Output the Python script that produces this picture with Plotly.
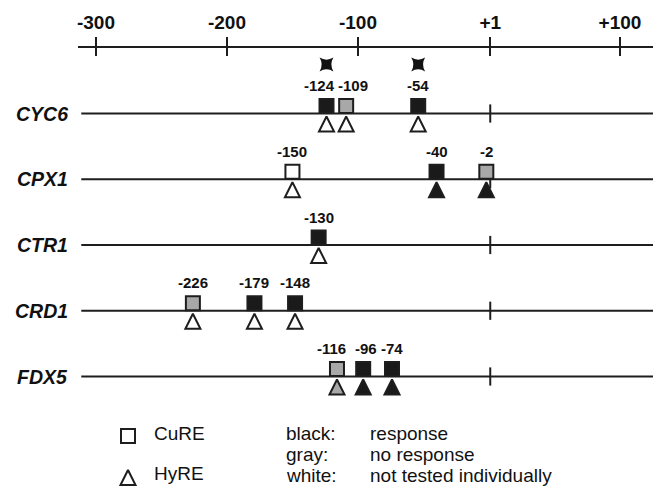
import plotly.graph_objects as go

# ---------------- data ----------------
genes = ["CYC6", "CPX1", "CTR1", "CRD1", "FDX5"]
cure_pos = [[-124, -109, -54], [-150, -40, -2], [-130], [-226, -179, -148], [-116, -96, -74]]
cure_state = [["black", "gray", "black"], ["white", "black", "gray"], ["black"],
              ["gray", "black", "black"], ["gray", "black", "black"]]
hyre_state = [["white", "white", "white"], ["white", "black", "black"], ["white"],
              ["white", "white", "white"], ["gray", "black", "black"]]
starred_gene = "CYC6"
starred_pos = [-124, -54]
tick_vals = [-300, -200, -100, 1, 100]
tick_text = ["-300", "-200", "-100", "+1", "+100"]
legend_shapes = ["CuRE", "HyRE"]
legend_colors = ["black:", "gray:", "white:"]
legend_meaning = ["response", "no response", "not tested individually"]

# ---------------- style / layout ----------------
OFF = 8                      # default page margin of the html body
W, H = 661 - OFF, 488 - OFF
ML, MR, MT, MB = 78 - OFF, 7, 48 - OFF, 0
XR = [-313.7, 126.0]
ROW0_PX, ROW_PX = 113.5 - OFF, 65.75
YR = [(H - ROW0_PX) / ROW_PX, (MT - ROW0_PX) / ROW_PX]
PX = 1.0 / ROW_PX  # one pixel in y units
XSCALE = (W - ML - MR) / (XR[1] - XR[0])
FILL = {"black": "#1a1a1a", "gray": "#a8a8a8", "white": "#ffffff"}
INK = "#1e1e1e"
FONT = "Liberation Sans, Arial, Helvetica, sans-serif"
# small horizontal label nudges (pixels) to keep crowded labels apart
LABEL_NUDGE = {("CYC6", -124): -7, ("CYC6", -109): 7, ("FDX5", -116): -5, ("FDX5", -96): 3}


def px_x(p):
    """screen pixel -> x data value"""
    return XR[0] + (p - OFF - ML) / XSCALE


def px_y(p):
    """screen pixel -> y data value"""
    return (p - OFF - ROW0_PX) / ROW_PX


fig = go.Figure()

for i, g in enumerate(genes):
    # gene line
    fig.add_trace(go.Scatter(x=[XR[0] + 2.5, XR[1]], y=[i, i], mode="lines",
                             line=dict(color=INK, width=2), hoverinfo="skip"))
    # +1 tick on gene line
    fig.add_trace(go.Scatter(x=[1], y=[i], mode="markers",
                             marker=dict(symbol="line-ns", size=13,
                                         line=dict(color=INK, width=2)),
                             hoverinfo="skip"))
    pos = cure_pos[i]
    # HyRE triangles
    fig.add_trace(go.Scatter(x=pos, y=[i + 3 * PX] * len(pos), mode="markers",
                             marker=dict(symbol="arrow-up", size=15,
                                         color=[FILL[s] for s in hyre_state[i]],
                                         line=dict(color=INK, width=2)),
                             hoverinfo="skip", cliponaxis=False))
    # CuRE squares
    fig.add_trace(go.Scatter(x=pos, y=[i - 7.5 * PX] * len(pos), mode="markers",
                             marker=dict(symbol="square", size=14,
                                         color=[FILL[s] for s in cure_state[i]],
                                         line=dict(color=INK, width=2)),
                             hoverinfo="skip"))
    # position labels
    for v in pos:
        fig.add_annotation(x=v, y=i - 28 * PX, xref="x", yref="y", text=str(v),
                           showarrow=False, xanchor="center", yanchor="middle",
                           xshift=LABEL_NUDGE.get((g, v), 0),
                           font=dict(family=FONT, size=15, color="#111", weight="bold"))
    if g == starred_gene:
        fig.add_trace(go.Scatter(x=starred_pos, y=[i - 49 * PX] * len(starred_pos),
                                 mode="markers",
                                 marker=dict(symbol="star-diamond", angle=45, size=14,
                                             color="#111", line=dict(width=0)),
                                 hoverinfo="skip"))
    # gene name
    fig.add_annotation(x=XR[0] + 2.5, y=i, xref="x", yref="y", text=g, showarrow=False,
                       xanchor="right", yanchor="middle", xshift=-11,
                       font=dict(family=FONT, size=19.5, color="#111", weight="bold",
                                 style="italic"))

# ---------------- legend ----------------
leg_sym = ["square", "arrow-up"]
leg_y_px = [436, 470]
leg_sizes = [14, 15]
for k, name in enumerate(legend_shapes):
    fig.add_trace(go.Scatter(x=[px_x(128)], y=[px_y(leg_y_px[k])], mode="markers",
                             marker=dict(symbol=leg_sym[k], size=leg_sizes[k], color="white",
                                         line=dict(color=INK, width=2)),
                             hoverinfo="skip", cliponaxis=False))
    fig.add_annotation(x=px_x(152), y=px_y([433, 473][k]), xref="x", yref="y", text=name,
                       showarrow=False, xanchor="left", yanchor="middle",
                       font=dict(family=FONT, size=19, color="#111"))
for k, (c, m) in enumerate(zip(legend_colors, legend_meaning)):
    yy = px_y([433, 454, 475][k])
    fig.add_annotation(x=px_x(284), y=yy, xref="x", yref="y", text=c, showarrow=False,
                       xanchor="left", yanchor="middle",
                       font=dict(family=FONT, size=19, color="#111"))
    fig.add_annotation(x=px_x(368), y=yy, xref="x", yref="y", text=m, showarrow=False,
                       xanchor="left", yanchor="middle",
                       font=dict(family=FONT, size=19, color="#111"))

# invisible trace on the overlay axis
fig.add_trace(go.Scatter(x=[0], y=[0], xaxis="x2", mode="markers",
                         marker=dict(opacity=0), hoverinfo="skip"))

fig.update_layout(
    width=W, height=H, margin=dict(l=ML, r=MR, t=MT, b=MB),
    paper_bgcolor="white", plot_bgcolor="white", showlegend=False,
    xaxis=dict(range=XR, side="top", showline=True, linecolor=INK, linewidth=2,
               ticks="outside", ticklen=9, tickwidth=2, tickcolor=INK,
               tickvals=tick_vals, ticktext=tick_text, showgrid=False, zeroline=False,
               tickfont=dict(family=FONT, size=19, color="#111", weight="bold"),
               ticklabelstandoff=0, automargin=False, fixedrange=True),
    xaxis2=dict(range=XR, overlaying="x", side="top", showline=False,
                ticks="inside", ticklen=8, tickwidth=2, tickcolor=INK,
                tickvals=tick_vals, showticklabels=False, showgrid=False,
                zeroline=False, automargin=False, fixedrange=True),
    yaxis=dict(range=YR, visible=False, fixedrange=True, automargin=False),
)

fig.write_html("out.html")
